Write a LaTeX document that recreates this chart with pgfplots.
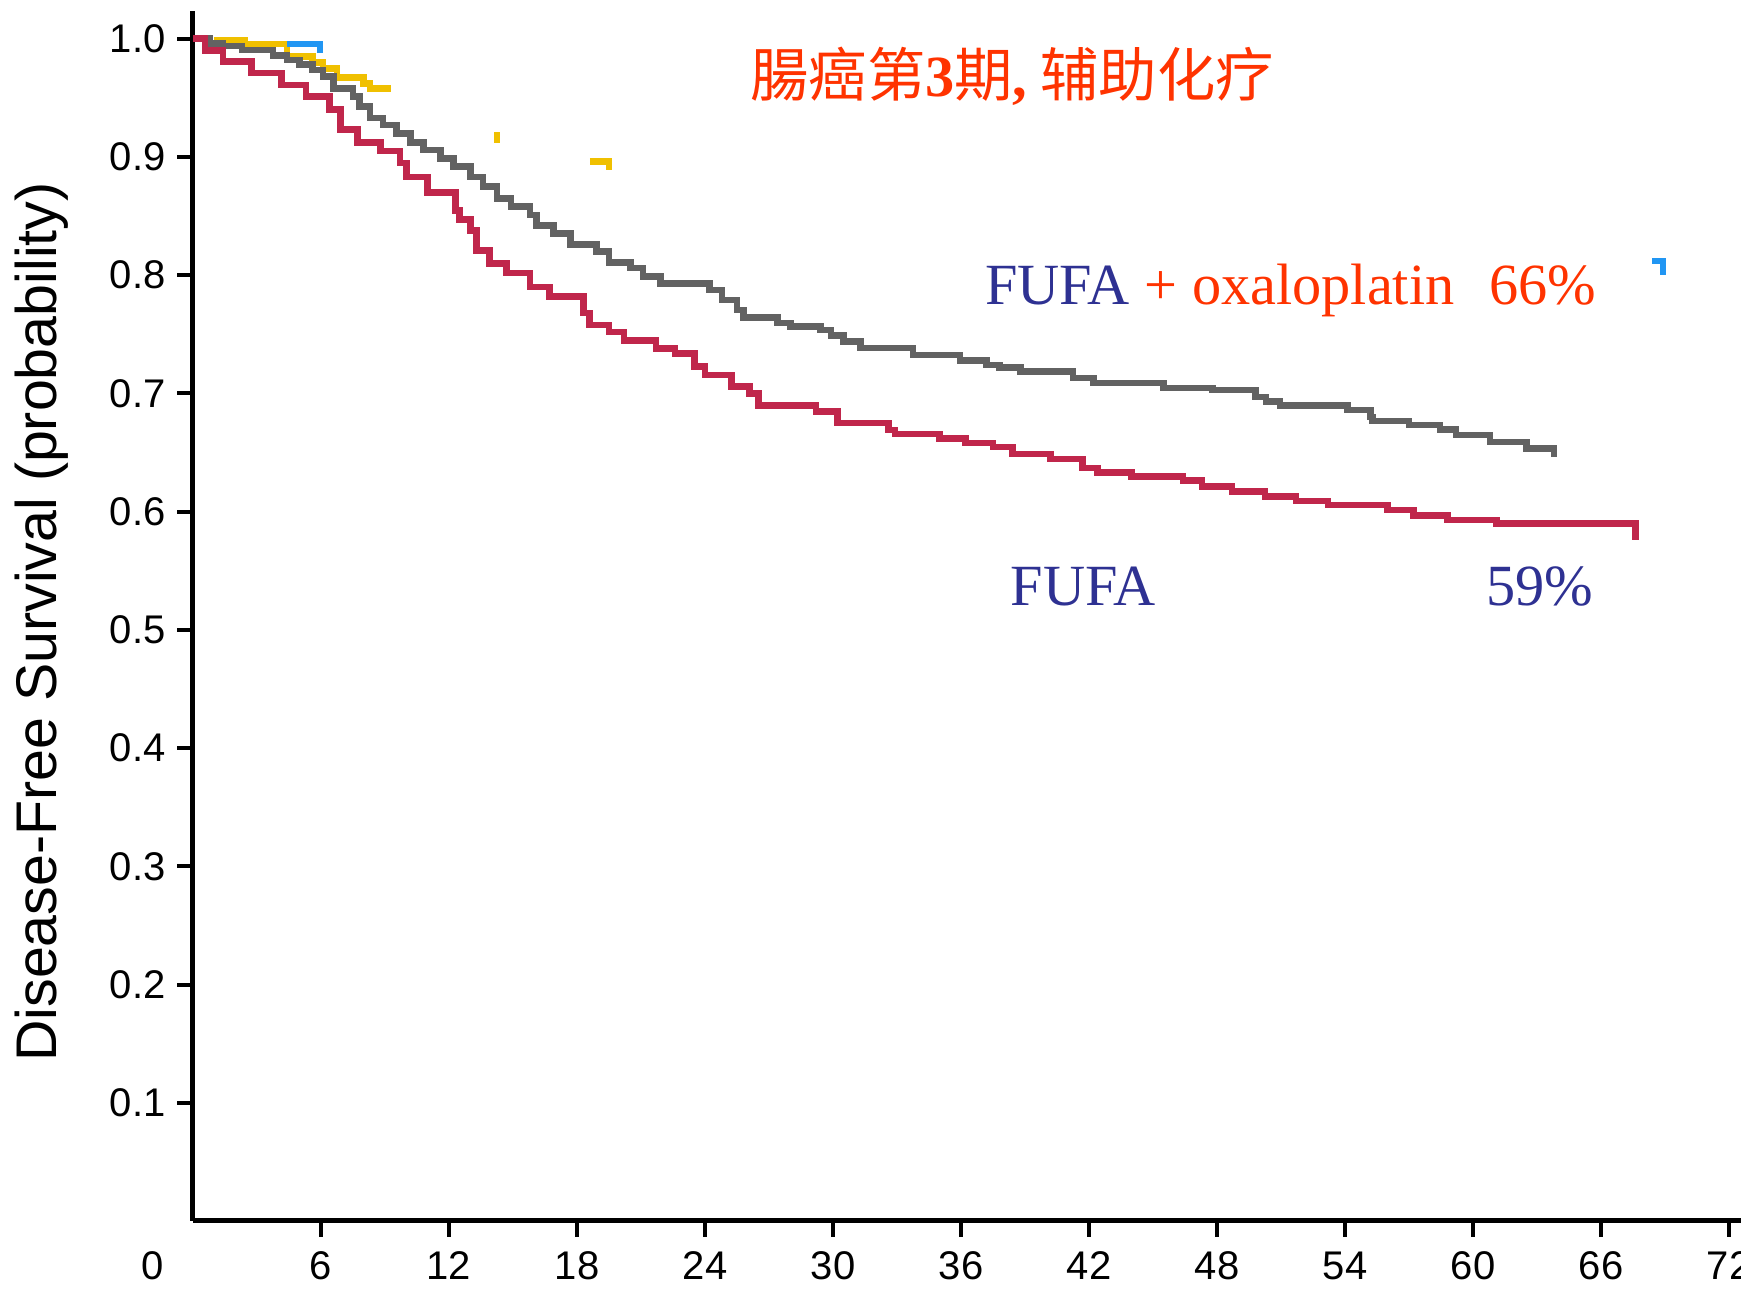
\documentclass[border=0pt]{standalone}
\usepackage{fontspec}
\setmainfont{Liberation Sans}
\newfontfamily\tnr{Liberation Serif}
\newfontfamily\cjk{Noto Sans CJK SC}
\usepackage{pgfplots}
\pgfplotsset{compat=1.18}

\definecolor{kmred}{HTML}{C0264B}
\definecolor{kmgray}{HTML}{626262}
\definecolor{kmyellow}{HTML}{F0C000}
\definecolor{kmblue}{HTML}{2196F3}
\definecolor{txtred}{HTML}{FF3300}
\definecolor{txtblue}{HTML}{2E3192}

\begin{document}
\begin{tikzpicture}
\begin{axis}[
  scale only axis,
  width=464.4pt, height=363pt,
  xmin=0, xmax=72.56, ymin=0, ymax=1.0235,
  axis lines*=left,
  axis line style={line width=1.5pt, black},
  tick align=outside,
  major tick length=4.7pt,
  tick style={line width=1.2pt, black},
  xtick={6,12,18,24,30,36,42,48,54,60,66,72},
  xticklabels={6,12,18,24,30,36,42,48,54,60,66,72},
  ytick={0.1,0.2,0.3,0.4,0.5,0.6,0.7,0.8,0.9,1.0},
  yticklabels={0.1,0.2,0.3,0.4,0.5,0.6,0.7,0.8,0.9,1.0},
  extra x ticks={0},
  extra x tick labels={0},
  extra x tick style={tick style={draw=none}, xticklabel style={xshift=-12pt}},
  ticklabel style={font=\fontsize{12}{14}\selectfont},
  xticklabel style={yshift=-1pt},
  ylabel={Disease-Free Survival (probability)},
  ylabel style={font=\fontsize{17.2}{20}\selectfont, at={(axis description cs:-0.098,0.495)}, anchor=center},
  clip=false,
]
% stray bits of other curves left in the source picture
\addplot[const plot, color=kmyellow, line width=2pt] coordinates {
  (1.0,0.999) (2.4,0.9955) (4.4,0.985) (5.6,0.980) (6.1,0.975)
  (6.75,0.967) (8.0,0.962) (8.3,0.958) (9.3,0.958)
};
\addplot[const plot, color=kmyellow, line width=2pt] coordinates {
  (18.6,0.896) (19.5,0.896) (19.5,0.889)
};
\addplot[color=kmyellow, line width=2pt] coordinates {
  (14.25,0.921) (14.25,0.912)
};
\addplot[const plot, color=kmblue, line width=2pt] coordinates {
  (4.4,0.9955) (5.95,0.9955) (5.95,0.988)
};
\addplot[const plot, color=kmblue, line width=2pt] coordinates {
  (68.4,0.812) (68.9,0.812) (68.9,0.800)
};

% FUFA + oxaloplatin
\addplot[const plot, color=kmgray, line width=2pt] coordinates {
  (0,1.0) (0.8,0.996) (1.4,0.994) (2.3,0.9905) (3.75,0.986) (4.4,0.982)
  (5.0,0.978) (5.6,0.9736) (6.1,0.968) (6.6,0.958) (7.5,0.951) (7.8,0.9426)
  (8.3,0.933) (8.9,0.927) (9.55,0.920) (10.2,0.912) (10.8,0.906) (11.6,0.899)
  (12.2,0.892) (13.0,0.883) (13.6,0.875) (14.25,0.865) (14.9,0.858) (15.8,0.851)
  (16.1,0.842) (16.9,0.835) (17.7,0.826) (18.9,0.820) (19.5,0.811) (20.5,0.806)
  (21.1,0.799) (21.9,0.793) (24.2,0.7875) (24.8,0.779) (25.5,0.7707) (25.8,0.764)
  (27.4,0.7595) (28.0,0.7565) (29.4,0.7536) (29.9,0.749) (30.5,0.7438) (31.3,0.7383)
  (33.75,0.7325) (35.95,0.728) (37.2,0.724) (37.8,0.722) (38.8,0.7184) (41.25,0.713)
  (42.2,0.7088) (45.5,0.7046) (47.8,0.703) (49.8,0.697) (50.3,0.693) (50.95,0.6896)
  (54.1,0.686) (55.2,0.680) (55.3,0.6766) (57.0,0.6733) (58.45,0.6696) (59.2,0.6648)
  (60.8,0.659) (62.5,0.6535) (63.8,0.6535) (63.8,0.6465)
};
% FUFA
\addplot[const plot, color=kmred, line width=2pt] coordinates {
  (0,1.0) (0.56,0.990) (1.4,0.981) (2.75,0.971) (4.16,0.961) (5.3,0.951)
  (6.4,0.940) (6.9,0.923) (7.7,0.912) (8.8,0.905) (9.7,0.895) (10.0,0.883)
  (11.0,0.870) (12.3,0.855) (12.5,0.847) (13.0,0.838) (13.3,0.821) (13.9,0.810)
  (14.7,0.802) (15.8,0.790) (16.7,0.782) (18.3,0.768) (18.6,0.758) (19.5,0.752)
  (20.2,0.745) (21.7,0.738) (22.6,0.734) (23.5,0.7226) (24.0,0.7156) (25.25,0.7057)
  (26.1,0.700) (26.5,0.690) (29.2,0.6846) (30.2,0.675) (32.6,0.669) (32.9,0.6656)
  (35.0,0.662) (36.2,0.658) (37.5,0.6546) (38.4,0.6487) (40.2,0.6445) (41.7,0.637)
  (42.4,0.633) (44.0,0.630) (46.4,0.6262) (47.3,0.621) (48.7,0.617) (50.25,0.613)
  (51.7,0.609) (53.2,0.6056) (56.0,0.6014) (57.2,0.597) (58.8,0.593) (61.1,0.590)
  (67.6,0.590) (67.6,0.576)
};

\node[anchor=center, inner sep=0, text=txtred, font=\fontsize{17.5}{20}\selectfont]
  at (axis cs:38.4,0.968) {\cjk 腸癌第{\tnr\bfseries 3}期{\tnr\bfseries ,} 辅助化疗};
\node[anchor=base west, inner sep=0, font=\fontsize{17.5}{20}\selectfont\tnr]
  at (axis cs:37.1,0.775) {\textcolor{txtblue}{FUFA} \textcolor{txtred}{+ oxaloplatin\hspace{6pt} 66\%}};
\node[anchor=base west, inner sep=0, text=txtblue, font=\fontsize{17.5}{20}\selectfont\tnr]
  at (axis cs:38.3,0.521) {FUFA};
\node[anchor=base west, inner sep=0, text=txtblue, font=\fontsize{17.5}{20}\selectfont\tnr]
  at (axis cs:60.6,0.521) {59\%};
\end{axis}
\pgfresetboundingbox
\useasboundingbox (-57.9pt,-21.3pt) rectangle (464.4pt,366.3pt);
\end{tikzpicture}
\end{document}
